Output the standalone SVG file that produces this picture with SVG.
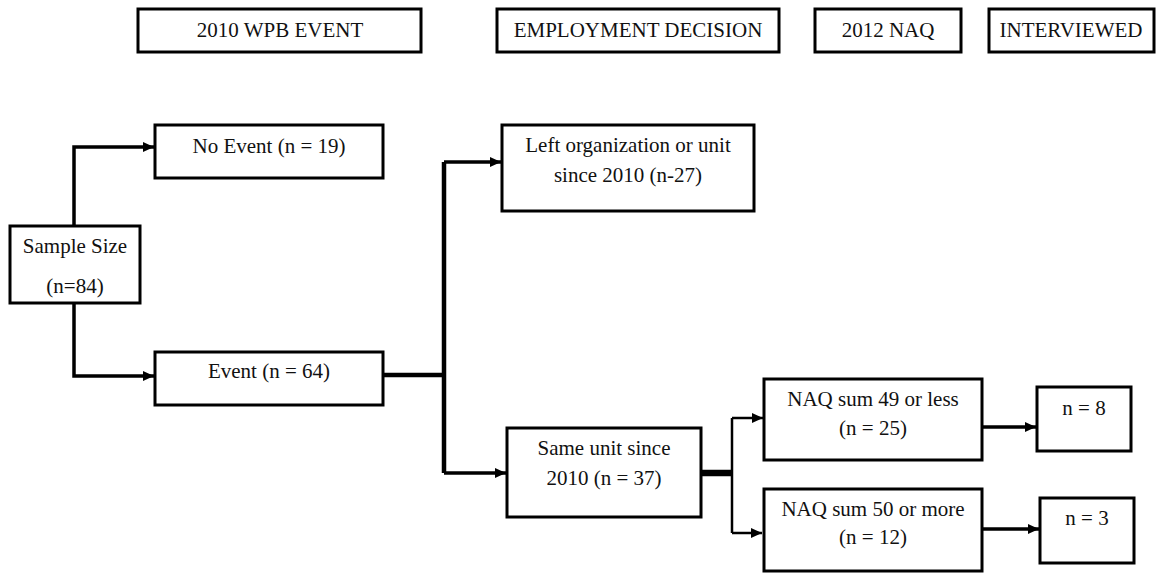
<svg xmlns="http://www.w3.org/2000/svg" width="1158" height="574" viewBox="0 0 1158 574" font-family="Liberation Serif, DejaVu Serif, Times New Roman, serif">
<style>
.box{fill:#fff;stroke:#000;stroke-width:3}
.t{font-size:21px;fill:#111;text-anchor:middle}
.ln{fill:none;stroke:#000;stroke-width:3.5}
.thin{fill:none;stroke:#000;stroke-width:2.5}
.thick{fill:none;stroke:#000;stroke-width:4.5}
</style>
<defs>
<marker id="ah" markerUnits="userSpaceOnUse" markerWidth="12" markerHeight="10" refX="11" refY="5" orient="auto">
<path d="M0,0 L11,5 L0,10 Z" fill="#000"/>
</marker>
</defs>
<g id="h1"><rect class="box" x="138" y="9" width="283" height="43"/><text class="t" x="280" y="37" font-family="Liberation Serif">2010 WPB EVENT</text></g>
<g id="h2"><rect class="box" x="497" y="9" width="282" height="43"/><text class="t" x="638" y="37" font-family="Liberation Serif">EMPLOYMENT DECISION</text></g>
<g id="h3"><rect class="box" x="815" y="9" width="146" height="43"/><text class="t" x="888" y="37" font-family="Liberation Serif">2012 NAQ</text></g>
<g id="h4"><rect class="box" x="989" y="9" width="165" height="43"/><text class="t" x="1071" y="37" font-family="Liberation Serif">INTERVIEWED</text></g>
<g id="connectors">
<path class="ln" d="M74,226 V147 H154" marker-end="url(#ah)"/>
<path class="ln" d="M74,303 V376 H154" marker-end="url(#ah)"/>
<path class="thick" d="M383,375 H444"/>
<path class="thick" d="M444,473 V162"/>
<path class="ln" d="M444,162 H501" marker-end="url(#ah)"/>
<path class="ln" d="M444,473 H506" marker-end="url(#ah)"/>
<path d="M701,473 H732" stroke="#000" stroke-width="6.5" fill="none"/>
<path class="thin" d="M732,418 V533"/>
<path class="thin" d="M732,418 H763" marker-end="url(#ah)"/>
<path class="thin" d="M732,533 H762" marker-end="url(#ah)"/>
<path class="ln" d="M982,427 H1036" marker-end="url(#ah)"/>
<path class="ln" d="M982,529 H1039" marker-end="url(#ah)"/>
</g>
<g id="sample"><rect class="box" x="10" y="226" width="130" height="77"/><text class="t" x="75" y="253">Sample Size</text><text class="t" x="75" y="293">(n=84)</text></g>
<g id="noevent"><rect class="box" x="155" y="125" width="228" height="53"/><text class="t" x="269" y="153">No Event (n = 19)</text></g>
<g id="event"><rect class="box" x="155" y="352" width="228" height="53"/><text class="t" x="269" y="378">Event (n = 64)</text></g>
<g id="left"><rect class="box" x="502" y="125" width="252" height="86"/><text class="t" x="628" y="152">Left organization or unit</text><text class="t" x="628" y="182">since 2010 (n-27)</text></g>
<g id="same"><rect class="box" x="507" y="428" width="194" height="89"/><text class="t" x="604" y="455">Same unit since</text><text class="t" x="604" y="485">2010 (n = 37)</text></g>
<g id="naq49"><rect class="box" x="764" y="379" width="218" height="81"/><text class="t" x="873" y="406">NAQ sum 49 or less</text><text class="t" x="873" y="435">(n = 25)</text></g>
<g id="naq50"><rect class="box" x="764" y="489" width="218" height="82"/><text class="t" x="873" y="516">NAQ sum 50 or more</text><text class="t" x="873" y="544">(n = 12)</text></g>
<g id="n8"><rect class="box" x="1037" y="387" width="94" height="64"/><text class="t" x="1084" y="415">n = 8</text></g>
<g id="n3"><rect class="box" x="1040" y="498" width="94" height="65"/><text class="t" x="1087" y="525">n = 3</text></g>
</svg>
